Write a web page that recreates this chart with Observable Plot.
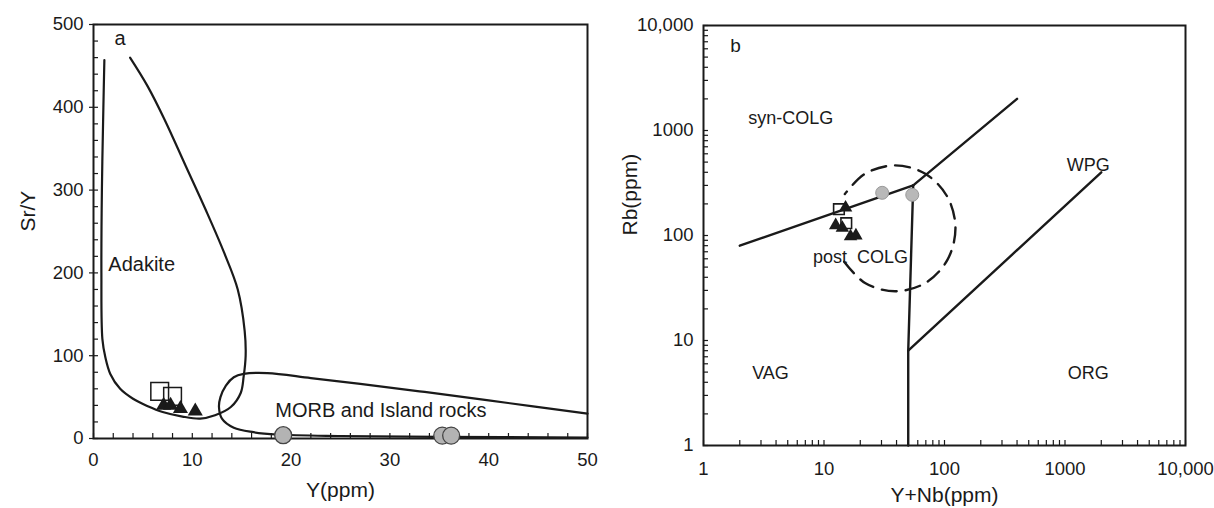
<!DOCTYPE html>
<html><head><meta charset="utf-8">
<script src="https://cdn.jsdelivr.net/npm/d3@7"></script>
<script src="https://cdn.jsdelivr.net/npm/@observablehq/plot@0.6"></script>
<style>
body{margin:0;background:#fff;font-family:Arial,"Liberation Sans",sans-serif;}
#wrap{position:relative;width:1214px;height:508px;overflow:hidden;background:#fff}
#a{position:absolute;left:0;top:0}
#b{position:absolute;left:610px;top:0}
</style></head><body><div id="wrap"><div id="a"></div><div id="b"></div></div>
<script>
// ---------- Panel a: Sr/Y vs Y ----------
const adakiteField = [[1.1,457],[1.0,400],[0.85,300],[0.8,200],[0.9,120],[1.2,98],[1.7,78],[2.7,60],[4,48],[5.5,39],[7,32],[9,26.5],[10.8,24],[12.3,28],[13.9,38],[14.9,55],[15.2,75],[15.4,100],[15.3,130],[14.6,180],[13.2,225],[11.4,275],[9.3,330],[7.2,385],[5.5,425],[3.7,460]];
const morbField = [[50,30],[40,46],[33,57],[27,66],[22,73],[17.6,79],[15.2,78],[14.2,74],[13.4,64],[12.85,50],[12.7,38],[13.0,24],[14.2,13],[16.2,7.6],[18.6,4.8],[25,3],[35,2],[50,1.2]];
const aSquaresY = [6.7, 8.0];
const aSquaresSrY = [57, 51];
const aTrianglesY = [7.1, 7.8, 8.8, 10.3];
const aTrianglesSrY = [40, 40, 36, 33];
const aCirclesY = [19.2, 35.3, 36.2];
const aCirclesSrY = [4, 3.5, 3.5];
const aXTicks = [0, 10, 20, 30, 40, 50];
const aYTicks = [0, 100, 200, 300, 400, 500];
const aXMinor = d3.range(0, 51, 2);
const aYMinor = d3.range(0, 501, 20);
const aPanelLabel = [{x: 2.7, y: 483, t: "a"}];
const aFieldLabels = [
  {x: 1.5, y: 210, t: "Adakite"},
  {x: 18.4, y: 34, t: "MORB and Island rocks"}
];

// ---------- Panel b: Rb vs Y+Nb ----------
const vagSynLine = [[2, 80], [55, 300]];
const synWpgLine = [[55, 300], [400, 2000]];
const vagWpgLine = [[50, 1], [50, 8], [55, 300]];
const wpgOrgLine = [[50, 8], [2000, 400]];
const postColgArc = [[14.7,56.2],[21.9,35.3],[39.0,29.4],[69.3,35.3],[105.7,58.6],[123.3,117],[105.7,233.3],[69.3,387],[39.0,465.6],[21.9,387],[14.9,248]];
const bSquaresX = [13.3, 15.3];
const bSquaresY = [178, 131];
const bTrianglesX = [15.1, 12.5, 14.2, 16.6, 18.4];
const bTrianglesY = [184, 125, 118, 98, 100];
const bCirclesX = [30.4, 54];
const bCirclesY = [255, 244];
const bTickValues = [1, 10, 100, 1000, 10000];
const bTickLabels = ["1", "10", "100", "1000", "10,000"];
const bMinor = [];
for (const p of [1, 10, 100, 1000]) for (let k = 1; k <= 9; k++) bMinor.push(k * p);
bMinor.push(10000);
const bPanelLabel = [{x: 1.84, y: 6460, t: "b"}];
const bFieldLabels = [
  {x: 5.3, y: 1300, t: "syn-COLG"},
  {x: 1560, y: 464, t: "WPG"},
  {x: 3.6, y: 4.85, t: "VAG"},
  {x: 1560, y: 4.85, t: "ORG"},
  {x: 20.1, y: 62, t: "post  COLG"}
];

const FONT = "Arial, 'Liberation Sans', sans-serif";
const INK = "#1a1a1a";
const pts = (xs, ys) => xs.map((x, i) => ({x, y: ys[i]}));

const plotA = Plot.plot({
  width: 610, height: 508,
  marginLeft: 93, marginRight: 23, marginTop: 24, marginBottom: 70,
  x: {domain: [0, 50]},
  y: {domain: [0, 500]},
  style: {fontFamily: FONT, background: "white", color: INK, overflow: "visible"},
  marks: [
    Plot.line(adakiteField, {x: d => d[0], y: d => d[1], curve: "catmull-rom", stroke: INK, strokeWidth: 2.2}),
    Plot.line(morbField, {x: d => d[0], y: d => d[1], curve: "catmull-rom", stroke: INK, strokeWidth: 2.2}),
    Plot.axisX(aXMinor, {tickSize: -5, tickFormat: () => "", label: null, strokeWidth: 1.2}),
    Plot.axisY(aYMinor, {tickSize: -5, tickFormat: () => "", label: null, strokeWidth: 1.2}),
    Plot.axisX(aXTicks, {tickSize: 0, tickPadding: 14, fontSize: 18.5, label: null}),
    Plot.axisY(aYTicks, {tickSize: 4, tickPadding: 6, fontSize: 18.5, label: null, strokeWidth: 1.2}),
    Plot.frame({stroke: INK, strokeWidth: 2}),
    Plot.dot(pts(aSquaresY, aSquaresSrY), {x: "x", y: "y", symbol: "square", r: 10, fill: "none", stroke: INK, strokeWidth: 1.5}),
    Plot.dot(pts(aTrianglesY, aTrianglesSrY), {x: "x", y: "y", symbol: "triangle", r: 5.6, fill: INK}),
    Plot.dot(pts(aCirclesY, aCirclesSrY), {x: "x", y: "y", r: 8.5, fill: "#b3b3b3", stroke: "#444", strokeWidth: 1.3}),
    Plot.text(aPanelLabel, {x: "x", y: "y", text: "t", fontSize: 20, fill: INK}),
    Plot.text(aFieldLabels, {x: "x", y: "y", text: "t", textAnchor: "start", fontSize: 20, fill: INK}),
    Plot.text(["Y(ppm)"], {text: d => d, frameAnchor: "bottom", dy: 58, fontSize: 21, fill: INK}),
    Plot.text(["Sr/Y"], {text: d => d, frameAnchor: "left", dx: -65, rotate: -90, fontSize: 21, fill: INK})
  ]
});
document.getElementById("a").append(plotA);

const plotB = Plot.plot({
  width: 604, height: 508,
  marginLeft: 93, marginRight: 29, marginTop: 25, marginBottom: 63,
  x: {type: "log", domain: [1, 10000]},
  y: {type: "log", domain: [1, 10000]},
  style: {fontFamily: FONT, background: "white", color: INK, overflow: "visible"},
  marks: [
    Plot.line(vagSynLine, {x: d => d[0], y: d => d[1], stroke: INK, strokeWidth: 2.4}),
    Plot.line(synWpgLine, {x: d => d[0], y: d => d[1], stroke: INK, strokeWidth: 2.4}),
    Plot.line(vagWpgLine, {x: d => d[0], y: d => d[1], stroke: INK, strokeWidth: 2.4}),
    Plot.line(wpgOrgLine, {x: d => d[0], y: d => d[1], stroke: INK, strokeWidth: 2.4}),
    Plot.line(postColgArc, {x: d => d[0], y: d => d[1], curve: "catmull-rom", stroke: INK, strokeWidth: 2.4, strokeDasharray: "15,9"}),
    Plot.axisX(bMinor, {tickSize: -5, tickFormat: () => "", label: null, strokeWidth: 1.2}),
    Plot.axisY(bMinor, {tickSize: -5, tickFormat: () => "", label: null, strokeWidth: 1.2}),
    Plot.axisX(bTickValues, {tickSize: 0, tickPadding: 16, fontSize: 18.5, label: null, tickFormat: d => bTickLabels[bTickValues.indexOf(d)]}),
    Plot.axisY(bTickValues, {tickSize: 0, tickPadding: 10, fontSize: 18.5, label: null, tickFormat: d => bTickLabels[bTickValues.indexOf(d)]}),
    Plot.frame({stroke: INK, strokeWidth: 2}),
    Plot.dot(pts(bSquaresX, bSquaresY), {x: "x", y: "y", symbol: "square", r: 6, fill: "none", stroke: INK, strokeWidth: 1.6}),
    Plot.dot(pts(bTrianglesX, bTrianglesY), {x: "x", y: "y", symbol: "triangle", r: 5, fill: INK}),
    Plot.dot(pts(bCirclesX, bCirclesY), {x: "x", y: "y", r: 6.5, fill: "#b8b8b8", stroke: "#999", strokeWidth: 1}),
    Plot.text(bPanelLabel, {x: "x", y: "y", text: "t", fontSize: 19, fill: INK}),
    Plot.text(bFieldLabels, {x: "x", y: "y", text: "t", fontSize: 18, fill: INK}),
    Plot.text(["Y+Nb(ppm)"], {text: d => d, frameAnchor: "bottom", dy: 56, fontSize: 21, fill: INK}),
    Plot.text(["Rb(ppm)"], {text: d => d, frameAnchor: "left", dx: -73, rotate: -90, fontSize: 21, fill: INK})
  ]
});
document.getElementById("b").append(plotB);
</script>
</body></html>
